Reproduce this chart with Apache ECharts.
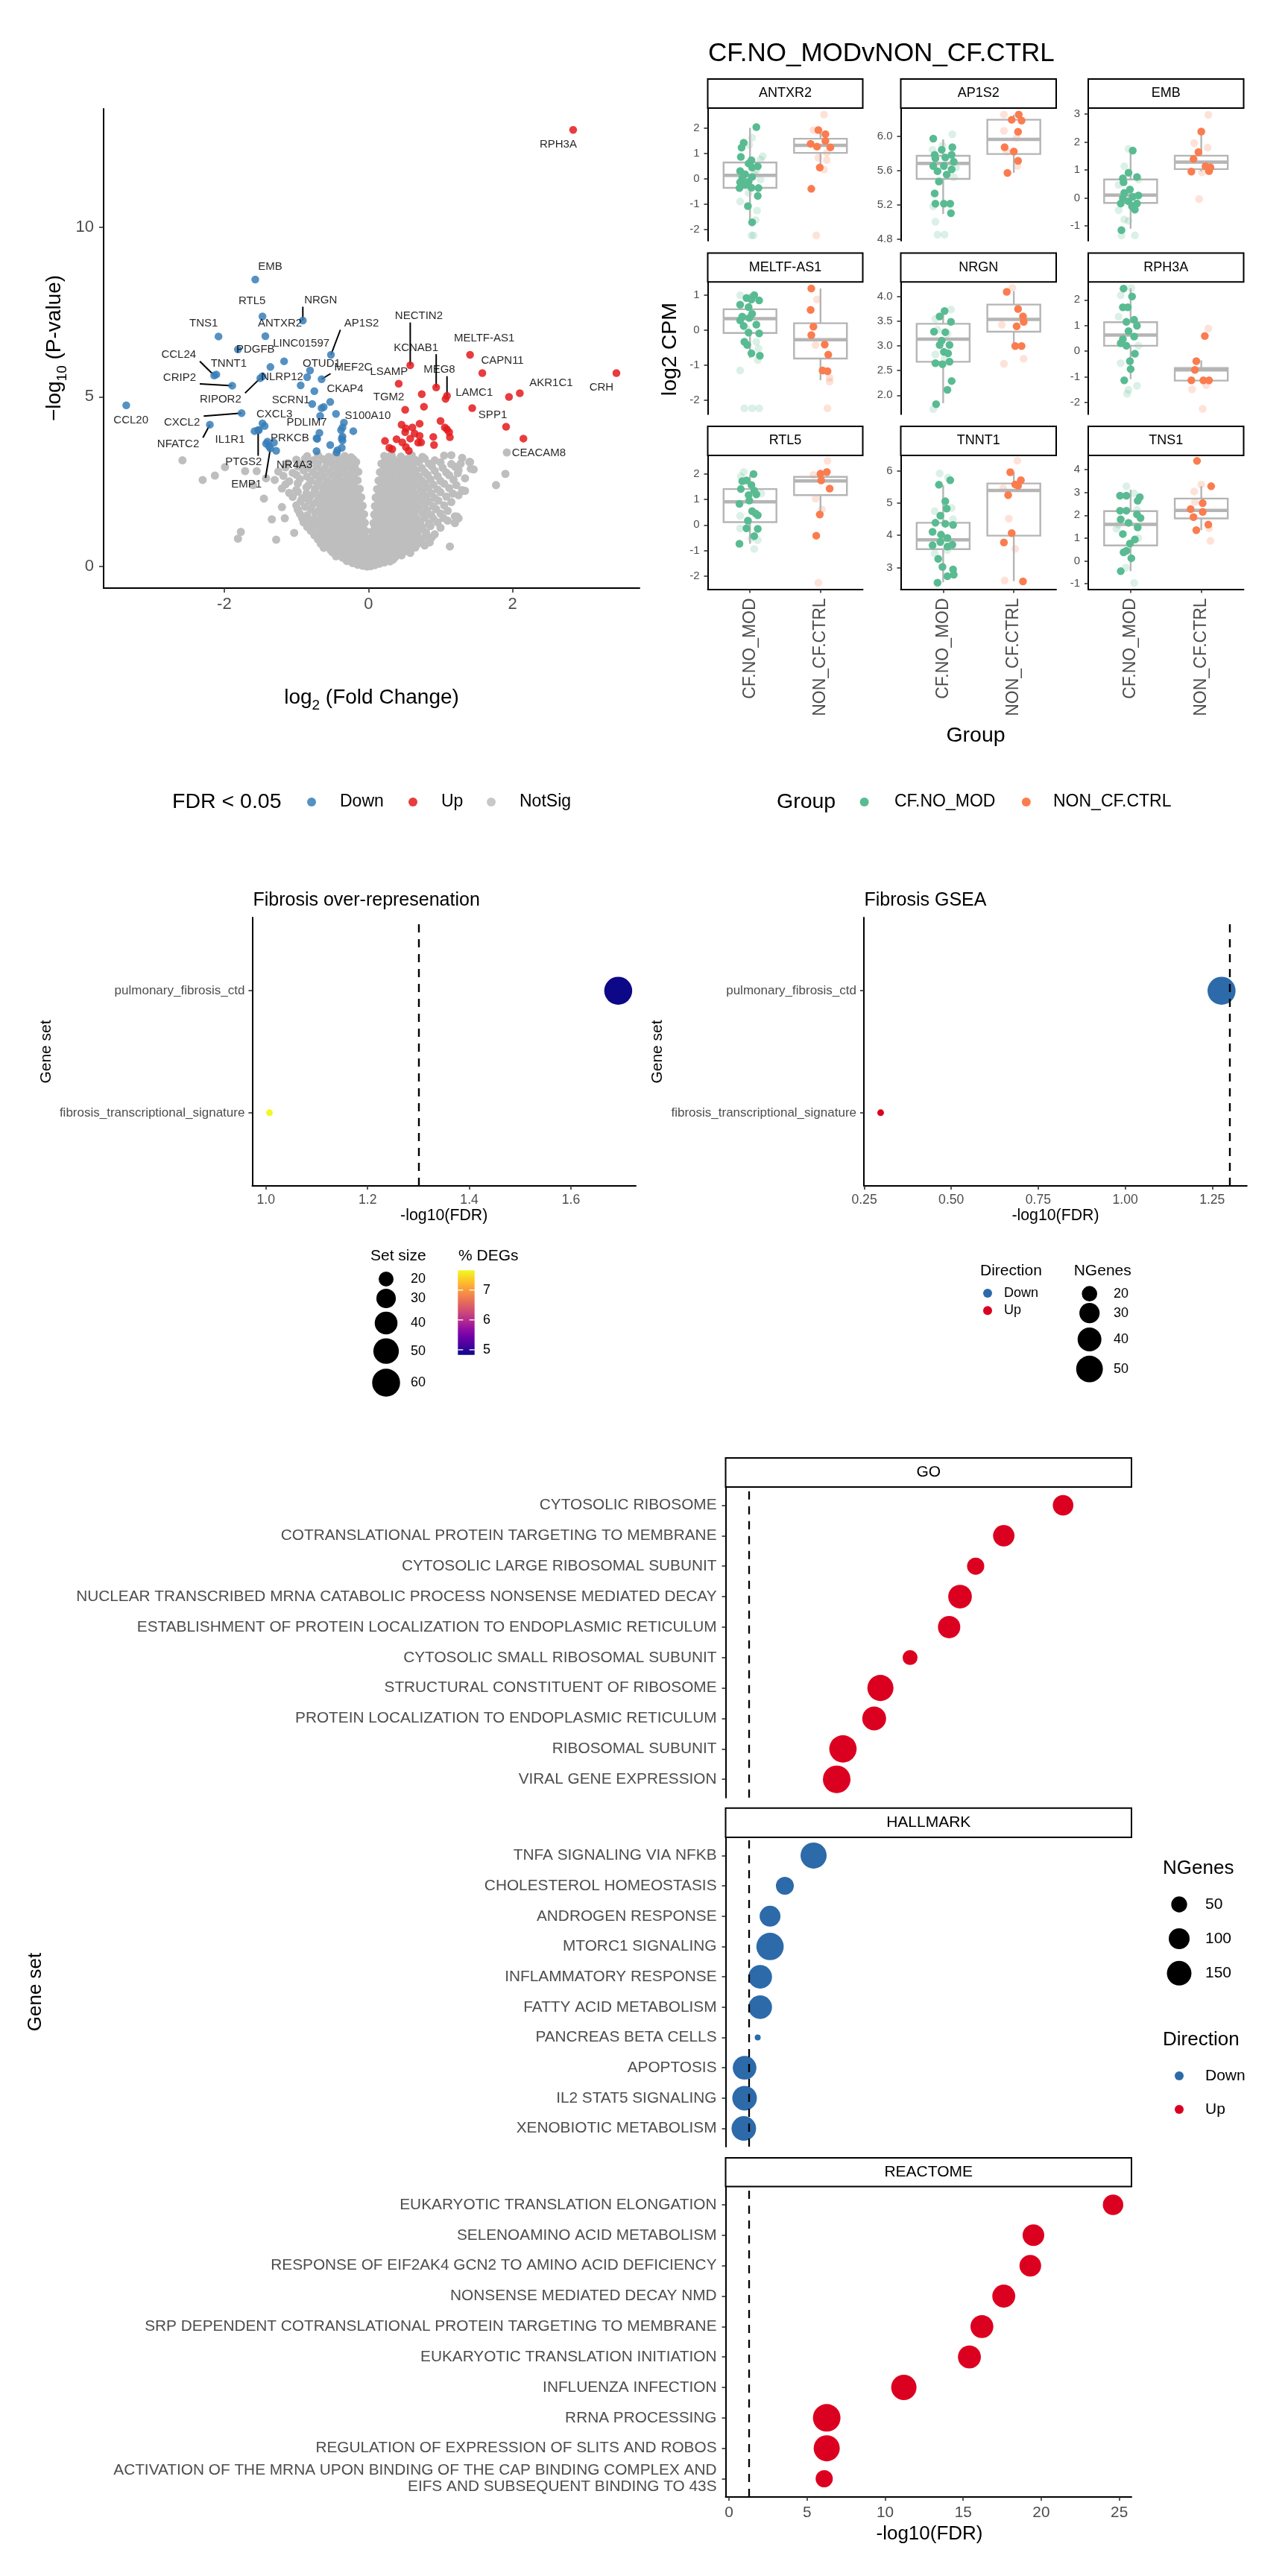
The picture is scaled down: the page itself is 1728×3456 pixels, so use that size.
<!DOCTYPE html>
<html><head><meta charset="utf-8">
<script src="https://cdn.jsdelivr.net/npm/echarts@6/dist/echarts.min.js"></script>
<style>html,body{margin:0;padding:0;background:#fff}#c{width:1728px;height:3456px}</style>
</head><body><div id="c"></div>
<script>
// ================= DATA =================
// Volcano: [log2FC, -log10 P, label]
const volcanoDown = [
 [-1.57,8.46,'EMB'],[-1.47,7.37,'RTL5'],[-0.91,7.25,'NRGN'],[-1.43,6.79,'ANTXR2'],[-2.08,6.78,'TNS1'],
 [-1.81,6.40,'PDGFB'],[-1.17,6.05,'LINC01597'],[-0.52,6.24,'AP1S2'],[-2.14,5.63,'CCL24'],[-2.11,5.66,'TNNT1'],
 [-1.89,5.33,'CRIP2'],[-1.47,5.61,'NLRP12'],[-1.50,5.55,'RIPOR2'],[-0.81,5.78,'OTUD1'],[-0.65,5.52,'MEF2C'],
 [-0.53,4.85,'CKAP4'],[-0.78,4.79,'SCRN1'],[-3.36,4.75,'CCL20'],[-1.76,4.52,'CXCL2'],[-1.47,4.22,'CXCL3'],
 [-0.67,4.44,'PDLIM7'],[-0.34,4.24,'S100A10'],[-2.20,4.18,'NFATC2'],[-1.58,3.99,'IL1R1'],[-1.40,3.68,'PRKCB'],
 [-1.53,4.02,'PTGS2'],[-1.28,3.41,'NR4A3'],[-1.36,3.48,'EMP1'],
 [-1.36,5.88,''],[-0.85,5.58,''],[-0.94,5.34,''],[-0.75,5.17,''],[-0.65,4.67,''],[-0.62,4.70,''],[-0.45,4.50,''],
 [-1.44,4.14,''],[-0.36,4.10,''],[-0.38,4.02,''],[-0.21,3.99,''],[-0.68,3.94,''],[-0.72,3.78,''],[-0.36,3.83,''],
 [-0.37,3.77,''],[-0.36,3.71,''],[-1.31,3.65,''],[-0.53,3.58,''],[-0.72,3.40,''],[-0.43,3.43,''],[-0.44,3.36,''],
 [-1.52,4.02,''],[-1.38,3.55,''],[-1.42,3.62,''],[-0.37,3.50,''],[-0.71,3.76,'']
];
const volcanoUp = [
 [2.84,12.87,'RPH3A'],[3.44,5.70,'CRH'],[1.41,6.24,'MELTF-AS1'],[1.58,5.70,'CAPN11'],[0.58,5.93,'NECTIN2'],
 [0.42,5.39,'LSAMP'],[0.94,5.28,'KCNAB1'],[1.09,5.03,'MEG8'],[1.07,4.94,'LAMC1'],[2.10,5.11,'AKR1C1'],
 [0.51,4.62,'TGM2'],[1.44,4.67,'SPP1'],[2.15,3.77,'CEACAM8'],
 [1.95,5.00,''],[0.74,5.08,''],[0.77,4.71,''],[1.91,4.12,''],[0.46,4.18,''],[0.52,4.07,''],[0.61,4.10,''],
 [0.71,4.21,''],[0.64,3.92,''],[0.71,3.85,''],[0.73,3.66,''],[0.51,3.96,''],[0.58,3.77,''],[0.47,3.66,''],
 [0.39,3.75,''],[0.23,3.70,''],[0.29,3.50,''],[0.33,3.46,''],[0.52,3.52,''],[0.56,3.41,''],[0.91,3.58,''],
 [0.90,3.82,''],[1.00,4.29,''],[1.06,4.10,''],[1.09,4.04,''],[1.12,3.96,''],[1.13,3.81,''],[0.69,3.65,'']
];
const volcanoNotSig = [
 [-0.22,0.1],[-0.15,0.05],[-0.08,0.02],[-0.02,0.0],[0.03,0.01],[0.09,0.04],[0.15,0.08],[0.22,0.12],[0.3,0.15],[-0.3,0.16],[0.0,0.12],
 [-0.26,0.22],[-0.18,0.18],[-0.11,0.16],[-0.04,0.2],[0.06,0.19],[0.12,0.2],[0.18,0.18],[0.26,0.22],[0.34,0.2],
 [-0.45,0.3],[-0.36,0.26],[-0.27,0.33],[-0.2,0.28],[-0.12,0.3],[-0.05,0.25],[0.05,0.27],[0.12,0.31],[0.2,0.29],[0.28,0.32],[0.37,0.27],[0.46,0.33],[0.0,0.35],
 [-0.5,0.42],[-0.4,0.44],[-0.31,0.4],[-0.23,0.45],[-0.16,0.41],[-0.08,0.43],[-0.01,0.45],[0.08,0.41],[0.16,0.44],[0.24,0.4],[0.32,0.45],[0.41,0.42],[0.5,0.44],[0.58,0.4],
 [-0.62,0.55],[-0.53,0.5],[-0.44,0.58],[-0.35,0.52],[-0.27,0.57],[-0.19,0.53],[-0.11,0.56],[-0.04,0.5],[0.04,0.54],[0.11,0.58],[0.19,0.51],[0.27,0.56],[0.36,0.53],[0.45,0.57],[0.55,0.52],[0.65,0.56],
 [-0.66,0.67],[-0.57,0.7],[-0.48,0.65],[-0.39,0.69],[-0.3,0.66],[-0.22,0.7],[-0.14,0.65],[-0.07,0.69],[0.0,0.66],[0.07,0.7],[0.15,0.65],[0.23,0.69],[0.31,0.66],[0.4,0.7],[0.49,0.65],[0.58,0.69],[0.68,0.66],[0.78,0.62],
 [-0.7,0.8],[-0.61,0.76],[-0.52,0.83],[-0.43,0.78],[-0.34,0.82],[-0.25,0.77],[-0.17,0.81],[-0.09,0.79],[-0.03,0.84],[0.03,0.76],[0.09,0.82],[0.17,0.78],[0.26,0.81],[0.35,0.77],[0.44,0.83],[0.53,0.79],[0.63,0.8],[0.74,0.76],[0.85,0.71],
 [-0.75,0.92],[-0.65,0.95],[-0.56,0.9],[-0.47,0.94],[-0.38,0.91],[-0.29,0.95],[-0.21,0.9],[-0.13,0.94],[-0.06,0.92],[0.06,0.94],[0.13,0.9],[0.21,0.95],[0.3,0.91],[0.39,0.94],[0.48,0.9],[0.58,0.95],[0.68,0.91],[0.79,0.89],[0.88,0.86],
 [-0.8,1.05],[-0.7,1.0],[-0.6,1.08],[-0.5,1.03],[-0.4,1.07],[-0.3,1.02],[-0.2,1.06],[-0.11,1.01],[-0.04,1.05],[0.05,1.03],[0.12,1.08],[0.21,1.02],[0.3,1.06],[0.4,1.01],[0.5,1.07],[0.6,1.03],[0.7,1.06],[0.8,1.0],[0.92,0.95],
 [-0.85,1.17],[-0.75,1.2],[-0.65,1.15],[-0.55,1.19],[-0.45,1.16],[-0.35,1.2],[-0.25,1.15],[-0.16,1.19],[-0.08,1.17],[0.09,1.18],[0.17,1.15],[0.26,1.2],[0.35,1.16],[0.45,1.19],[0.55,1.15],[0.65,1.2],[0.75,1.16],[0.86,1.19],[1.0,1.14],
 [-0.9,1.3],[-0.8,1.26],[-0.7,1.33],[-0.6,1.28],[-0.5,1.32],[-0.4,1.27],[-0.3,1.31],[-0.2,1.26],[-0.12,1.33],[-0.05,1.29],[0.07,1.28],[0.14,1.32],[0.23,1.27],[0.32,1.31],[0.42,1.26],[0.52,1.33],[0.62,1.28],[0.72,1.32],[0.84,1.27],[0.96,1.3],[1.1,1.35],
 [-0.92,1.42],[-0.85,1.45],[-0.75,1.4],[-0.65,1.44],[-0.55,1.41],[-0.45,1.45],[-0.35,1.4],[-0.25,1.44],[-0.17,1.42],[-0.09,1.44],[0.11,1.41],[0.19,1.45],[0.28,1.4],[0.37,1.44],[0.47,1.41],[0.57,1.45],[0.67,1.4],[0.78,1.44],[0.9,1.41],[1.04,1.43],
 [-0.95,1.55],[-0.85,1.51],[-0.74,1.58],[-0.63,1.53],[-0.53,1.57],[-0.43,1.52],[-0.33,1.56],[-0.23,1.51],[-0.14,1.58],[-0.06,1.54],[0.08,1.53],[0.16,1.57],[0.25,1.52],[0.34,1.56],[0.44,1.51],[0.54,1.58],[0.64,1.53],[0.75,1.57],[0.87,1.52],[1.0,1.56],[1.2,1.48],
 [-0.98,1.67],[-0.8,1.7],[-0.69,1.65],[-0.58,1.69],[-0.48,1.66],[-0.38,1.7],[-0.28,1.65],[-0.19,1.69],[-0.11,1.66],[0.12,1.68],[0.21,1.65],[0.3,1.7],[0.39,1.66],[0.49,1.69],[0.59,1.65],[0.7,1.7],[0.81,1.66],[0.94,1.69],[1.1,1.64],
 [-1.0,1.8],[-0.88,1.76],[-0.77,1.83],[-0.66,1.78],[-0.56,1.82],[-0.46,1.77],[-0.36,1.81],[-0.26,1.76],[-0.16,1.83],[-0.08,1.79],[0.09,1.78],[0.18,1.82],[0.27,1.77],[0.37,1.81],[0.47,1.76],[0.57,1.83],[0.67,1.78],[0.78,1.82],[0.9,1.77],[1.05,1.8],
 [-0.94,1.92],[-0.83,1.95],[-0.72,1.9],[-0.61,1.94],[-0.51,1.91],[-0.41,1.95],[-0.31,1.9],[-0.21,1.94],[-0.13,1.92],[0.14,1.93],[0.23,1.9],[0.32,1.95],[0.42,1.91],[0.52,1.94],[0.62,1.9],[0.73,1.95],[0.84,1.91],[0.97,1.94],[1.15,1.9],
 [-1.05,2.05],[-0.92,2.01],[-0.8,2.08],[-0.69,2.03],[-0.59,2.07],[-0.49,2.02],[-0.39,2.06],[-0.29,2.01],[-0.19,2.08],[-0.1,2.04],[0.1,2.03],[0.19,2.07],[0.29,2.02],[0.39,2.06],[0.49,2.01],[0.59,2.08],[0.69,2.03],[0.8,2.07],[0.92,2.02],[1.08,2.06],[1.25,2.1],
 [-1.1,2.17],[-0.98,2.2],[-0.86,2.15],[-0.75,2.19],[-0.64,2.16],[-0.54,2.2],[-0.44,2.15],[-0.34,2.19],[-0.24,2.16],[-0.15,2.2],[0.15,2.18],[0.24,2.15],[0.34,2.2],[0.44,2.16],[0.54,2.19],[0.64,2.15],[0.75,2.2],[0.87,2.16],[1.0,2.19],[1.17,2.15],
 [-1.2,2.3],[-1.0,2.26],[-0.86,2.33],[-0.74,2.28],[-0.63,2.32],[-0.52,2.27],[-0.42,2.31],[-0.32,2.26],[-0.22,2.33],[-0.12,2.29],[0.12,2.28],[0.21,2.32],[0.31,2.27],[0.41,2.31],[0.51,2.26],[0.61,2.33],[0.72,2.28],[0.83,2.32],[0.96,2.27],[1.12,2.31],[1.3,2.25],
 [-1.15,2.42],[-0.98,2.45],[-0.83,2.4],[-0.71,2.44],[-0.6,2.41],[-0.5,2.45],[-0.4,2.4],[-0.3,2.44],[-0.2,2.41],[0.18,2.43],[0.27,2.4],[0.37,2.45],[0.47,2.41],[0.57,2.44],[0.67,2.4],[0.78,2.45],[0.9,2.41],[1.05,2.44],[1.22,2.4],
 [-1.3,2.55],[-1.1,2.51],[-0.95,2.58],[-0.8,2.53],[-0.68,2.57],[-0.57,2.52],[-0.46,2.56],[-0.36,2.51],[-0.26,2.58],[-0.15,2.54],[0.14,2.53],[0.23,2.57],[0.33,2.52],[0.43,2.56],[0.53,2.51],[0.63,2.58],[0.74,2.53],[0.86,2.57],[1.0,2.52],[1.18,2.56],[1.34,2.6],
 [-1.18,2.67],[-1.0,2.7],[-0.85,2.65],[-0.73,2.69],[-0.62,2.66],[-0.51,2.7],[-0.41,2.65],[-0.3,2.69],[-0.2,2.66],[0.2,2.68],[0.3,2.65],[0.4,2.7],[0.5,2.66],[0.6,2.69],[0.7,2.65],[0.82,2.7],[0.96,2.66],[1.12,2.69],
 [-1.25,2.8],[-1.05,2.76],[-0.9,2.83],[-0.77,2.78],[-0.65,2.82],[-0.54,2.77],[-0.43,2.81],[-0.33,2.76],[-0.22,2.83],[-0.14,2.79],[0.16,2.78],[0.26,2.82],[0.36,2.77],[0.46,2.81],[0.56,2.76],[0.66,2.83],[0.78,2.78],[0.92,2.82],[1.08,2.77],[1.25,2.84],[1.42,2.88],
 [-1.15,2.92],[-0.98,2.95],[-0.85,2.9],[-0.72,2.94],[-0.6,2.91],[-0.49,2.95],[-0.38,2.9],[-0.28,2.94],[-0.19,2.92],[0.22,2.93],[0.32,2.9],[0.42,2.95],[0.52,2.91],[0.62,2.94],[0.74,2.9],[0.88,2.95],[1.03,2.91],[1.2,2.94],
 [-1.12,3.05],[-0.95,3.01],[-0.82,3.08],[-0.7,3.03],[-0.58,3.07],[-0.47,3.02],[-0.37,3.06],[-0.27,3.01],[-0.17,3.08],[0.18,3.03],[0.28,3.07],[0.38,3.02],[0.48,3.06],[0.58,3.01],[0.7,3.08],[0.84,3.03],[1.0,3.07],[1.15,3.02],[1.4,3.08],
 [-1.0,3.15],[-0.88,3.18],[-0.76,3.13],[-0.64,3.17],[-0.52,3.14],[-0.41,3.18],[-0.31,3.13],[-0.21,3.16],[0.24,3.15],[0.34,3.18],[0.44,3.13],[0.54,3.17],[0.65,3.14],[0.78,3.18],[0.92,3.13],
 [-0.85,3.25],[-0.7,3.28],[-0.55,3.23],[-0.45,3.3],[-0.33,3.26],[-0.24,3.22],[0.22,3.26],[0.32,3.3],[0.45,3.24],[0.6,3.28],[0.75,3.23],[1.05,3.27],[1.3,3.2],
 [-2.58,3.13],[-2.30,2.55],[-2.13,2.68],[-1.99,2.93],[-1.71,2.81],[-1.55,2.81],[-1.77,1.02],[-1.81,0.82],[-1.34,1.39],[-1.16,1.42],[-1.28,0.79],[-1.03,0.99],[-1.45,2.0],[-1.2,1.75],[-1.6,2.4],[-1.42,2.6],
 [1.92,3.36],[1.90,2.73],[1.77,2.40],[1.46,2.86],[1.34,2.23],[1.13,0.59],[1.25,1.42],[1.15,3.28],[1.41,3.08],[1.28,3.03],[1.24,2.75],[1.2,1.28],[1.23,1.47],[1.32,2.23]
];
const volcanoXTicks = [-2, 0, 2];
const volcanoYTicks = [0, 5, 10];

// Boxplots: genes, groups; box = [[min,q1,median,q3,max] per group]; points = [x (group + jitter), log2 CPM]
const boxGenes = ['ANTXR2','AP1S2','EMB','MELTF-AS1','NRGN','RPH3A','RTL5','TNNT1','TNS1'];
const boxGroups = ['CF.NO_MOD','NON_CF.CTRL'];
const antxr2Box = [[-1.67,-0.37,0.12,0.63,2.0],[0.43,1.01,1.31,1.57,1.96]];
const antxr2Solid = [[1.09,2.03],[0.91,1.41],[0.88,1.22],[0.87,0.85],[1.02,0.72],[0.98,0.59],[1.11,0.48],[1.03,0.43],[0.86,0.29],[0.93,0.17],[0.89,0.01],[1.03,0.06],[0.98,-0.13],[0.86,-0.15],[0.93,-0.25],[1.02,-0.36],[1.12,-0.38],[0.85,-0.38],[1.11,-0.69],[0.97,-1.09],[1.03,-1.73],
 [1.97,1.91],[2.07,1.75],[2.07,1.48],[1.86,1.37],[1.95,1.26],[2.14,1.23],[1.99,0.43],[1.87,-0.41]];
const antxr2Faint = [[1.03,1.61],[1.18,0.88],[1.15,0.75],[1.09,0.33],[1.06,0.17],[0.98,-0.57],[0.86,-0.91],[1.10,-1.27],[1.08,-1.64],[1.02,-2.25],[1.05,-2.25],[0.99,1.33],[1.15,-0.04],
 [2.05,2.52],[1.90,1.91],[2.09,1.01],[2.09,0.73],[1.97,0.82],[2.05,0.35],[1.94,-2.25]];
const ap1s2Box = [[5.09,5.50,5.68,5.77,5.96],[5.57,5.79,5.96,6.19,6.25]];
const ap1s2Solid = [[0.86,5.97],[1.13,5.87],[0.98,5.84],[0.88,5.78],[1.12,5.78],[0.89,5.74],[1.03,5.75],[1.15,5.70],[0.86,5.65],[1.01,5.65],[1.12,5.61],[0.92,5.59],[1.05,5.55],[0.94,5.47],[0.88,5.33],[0.89,5.21],[1.01,5.21],[1.10,5.21],[1.11,5.10],
 [2.07,6.25],[1.97,6.19],[2.11,6.18],[2.06,6.05],[1.87,5.87],[2.0,5.82],[2.06,5.71],[1.91,5.57]];
const ap1s2Faint = [[1.13,6.02],[0.85,5.84],[0.99,5.89],[1.18,5.63],[1.15,5.52],[0.86,5.18],[0.89,5.00],[0.92,4.85],[1.02,4.85],
 [1.86,6.25],[1.86,6.06],[2.04,5.98],[1.90,5.82],[2.05,5.65]];
const embBox = [[-1.10,-0.18,0.10,0.66,1.70],[0.95,1.03,1.28,1.51,2.37]];
const embSolid = [[1.03,1.69],[0.97,0.90],[1.09,0.75],[0.89,0.70],[0.90,0.56],[0.99,0.30],[0.91,0.18],[1.11,0.09],[1.03,0.04],[0.89,-0.01],[0.97,-0.12],[1.09,-0.20],[0.86,-0.20],[1.02,-0.30],[1.06,-0.42],[0.87,-1.15],
 [2.0,2.37],[1.96,1.64],[1.89,1.39],[2.06,1.13],[2.13,1.09],[1.86,0.94],[2.11,0.96]];
const embFaint = [[0.97,1.75],[0.91,1.13],[1.11,0.66],[0.83,0.47],[0.83,-0.44],[0.91,-0.77],[0.97,-0.82],[0.87,-1.34],[1.06,-1.34],
 [2.10,2.97],[1.90,1.96],[2.09,1.80],[1.97,-0.04],[2.01,0.91]];
const meltfBox = [[-0.80,-0.09,0.32,0.59,1.03],[-1.44,-0.82,-0.28,0.19,1.18]];
const meltfSolid = [[1.06,0.99],[0.95,0.91],[1.02,0.87],[1.13,0.84],[0.86,0.72],[0.98,0.65],[1.03,0.46],[0.89,0.38],[0.99,0.34],[0.86,0.27],[1.09,0.15],[0.91,0.11],[0.98,-0.08],[1.13,-0.10],[0.92,-0.34],[0.96,-0.43],[1.02,-0.67],[1.14,-0.74],
 [1.87,1.18],[1.86,0.57],[1.90,0.09],[1.87,-0.15],[2.06,-0.42],[2.11,-0.71],[2.03,-1.16],[2.10,-1.18]];
const meltfFaint = [[0.86,0.99],[0.95,0.04],[1.09,-0.34],[1.12,-0.53],[1.11,-0.86],[0.86,-1.16],[0.92,-2.24],[1.03,-2.24],[1.13,-2.24],
 [1.95,0.87],[1.93,-0.43],[2.13,-1.37],[2.13,-1.48],[2.10,-2.24]];
const nrgnBox = [[1.84,2.68,3.14,3.45,3.74],[3.00,3.29,3.54,3.84,4.11]];
const nrgnSolid = [[1.02,3.71],[0.95,3.60],[1.11,3.49],[0.87,3.29],[1.03,3.28],[0.98,3.11],[1.09,3.02],[0.95,3.02],[1.01,2.88],[1.07,2.85],[0.89,2.65],[0.99,2.63],[1.09,2.68],[1.12,2.29],[1.06,2.11],[0.90,1.82],
 [1.90,4.10],[2.06,3.75],[2.13,3.60],[2.14,3.49],[2.04,3.40],[2.02,3.00],[2.11,3.00]];
const nrgnFaint = [[1.11,3.74],[0.89,3.55],[0.92,3.33],[0.89,2.83],[1.02,2.74],[0.86,1.72],[1.06,3.25],
 [1.98,4.18],[1.83,3.43],[1.86,2.64],[2.14,2.74]];
const rph3aBox = [[-1.09,0.21,0.63,1.13,2.45],[-1.15,-1.15,-0.73,-0.66,-0.36]];
const rph3aSolid = [[0.90,2.44],[1.02,2.13],[0.89,1.71],[0.96,1.71],[0.94,1.14],[1.05,1.22],[1.09,0.99],[0.97,0.78],[1.05,0.57],[0.89,0.47],[0.86,0.31],[0.94,0.21],[1.06,-0.10],[0.99,-0.39],[1.0,-0.70],[0.91,-1.14],
 [2.05,0.59],[1.93,-0.39],[1.91,-0.73],[1.86,-1.14],[2.03,-1.14],[2.11,-1.14]];
const rph3aFaint = [[1.01,2.46],[0.86,2.18],[0.83,1.35],[1.11,0.21],[0.86,-0.47],[1.09,-1.35],[0.97,-1.51],[0.95,-1.66],
 [2.10,0.88],[1.87,-1.49],[2.07,-1.33],[2.02,-2.25]];
const rtl5Box = [[-0.74,0.11,0.91,1.41,1.96],[0.38,1.17,1.73,1.89,2.08]];
const rtl5Solid = [[1.05,2.0],[0.89,1.72],[0.95,1.75],[1.02,1.57],[0.87,1.41],[1.06,1.35],[0.98,1.17],[1.09,1.20],[0.99,0.96],[0.85,0.83],[1.03,0.54],[1.08,0.45],[1.11,0.38],[0.97,0.17],[0.95,-0.13],[1.11,-0.15],[1.06,-0.44],[0.85,-0.74],
 [2.09,2.08],[2.0,2.01],[2.01,1.75],[2.13,1.43],[1.99,0.41],[1.94,-0.42]];
const rtl5Faint = [[0.91,2.08],[0.87,1.91],[1.16,1.24],[0.86,0.36],[0.86,-0.13],[1.02,-0.52],[1.11,-0.59],[1.06,-0.94],
 [2.10,2.52],[1.90,1.96],[1.93,1.03],[2.02,0.61],[1.97,-2.27]];
const tnnt1Box = [[2.54,3.57,3.86,4.39,5.56],[2.58,3.99,5.39,5.61,5.96]];
const tnnt1Solid = [[1.10,5.71],[0.94,5.57],[1.03,5.06],[1.05,4.83],[0.96,4.61],[0.89,4.39],[1.03,4.36],[1.14,4.32],[0.85,4.11],[0.97,4.02],[1.06,3.92],[0.96,3.79],[1.13,3.71],[0.85,3.69],[1.06,3.65],[0.93,3.27],[0.99,3.02],[1.14,2.94],[1.06,2.73],[1.15,2.78],[0.92,2.53],
 [1.95,5.96],[2.10,5.71],[2.06,5.54],[2.02,5.58],[1.92,5.25],[1.97,4.07],[1.86,3.78],[2.13,2.57]];
const tnnt1Faint = [[0.95,5.92],[1.07,5.79],[0.88,4.75],[1.12,4.85],[1.14,4.50],[1.06,3.54],[0.88,3.44],[1.03,3.92],
 [2.05,6.32],[1.85,5.46],[1.93,4.52],[2.02,3.58],[1.87,2.60]];
const tns1Box = [[-0.45,0.68,1.60,2.18,3.12],[1.35,1.86,2.21,2.73,3.27]];
const tns1Solid = [[0.85,2.86],[0.94,2.86],[1.13,2.79],[1.10,2.64],[0.85,2.20],[0.94,2.20],[1.09,2.04],[1.14,1.88],[0.86,1.82],[0.97,1.67],[1.10,1.47],[0.89,1.18],[1.06,0.94],[0.99,0.76],[0.90,0.38],[0.94,0.44],[1.01,0.12],[0.86,-0.45],
 [1.94,4.38],[2.14,3.27],[2.02,2.53],[1.85,2.27],[2.02,2.15],[1.89,1.92],[2.10,1.59],[1.93,1.35]];
const tns1Faint = [[0.94,3.27],[1.05,2.96],[1.09,2.24],[0.83,1.59],[1.11,1.0],[0.80,1.41],[0.93,-0.29],[1.05,-0.96],
 [2.0,3.35],[1.90,3.04],[1.91,2.59],[2.11,1.44],[2.13,0.88]];
const boxYTicks = [[-2,-1,0,1,2],[4.8,5.2,5.6,6.0],[-1,0,1,2,3],[-2,-1,0,1],[2.0,2.5,3.0,3.5,4.0],[-2,-1,0,1,2],[-2,-1,0,1,2],[3,4,5,6],[-1,0,1,2,3,4]];

// Fibrosis over-representation
const oraSets = ['fibrosis_transcriptional_signature','pulmonary_fibrosis_ctd'];
const oraLogFDR = [1.007, 1.693];
const oraSetSize = [13, 60];
const oraPctDEG = [7.66, 4.83];
const oraXTicks = [1.0, 1.2, 1.4, 1.6];
// Fibrosis GSEA
const gseaSets = ['fibrosis_transcriptional_signature','pulmonary_fibrosis_ctd'];
const gseaLogFDR = [0.297, 1.277];
const gseaNGenes = [13, 55];
const gseaDirection = ['Up','Down'];
const gseaXTicks = [0.25, 0.50, 0.75, 1.00, 1.25];
const fdrThreshold = 1.30103;

// Enrichment facets (top to bottom)
const goTerms = ['CYTOSOLIC RIBOSOME','COTRANSLATIONAL PROTEIN TARGETING TO MEMBRANE','CYTOSOLIC LARGE RIBOSOMAL SUBUNIT','NUCLEAR TRANSCRIBED MRNA CATABOLIC PROCESS NONSENSE MEDIATED DECAY','ESTABLISHMENT OF PROTEIN LOCALIZATION TO ENDOPLASMIC RETICULUM','CYTOSOLIC SMALL RIBOSOMAL SUBUNIT','STRUCTURAL CONSTITUENT OF RIBOSOME','PROTEIN LOCALIZATION TO ENDOPLASMIC RETICULUM','RIBOSOMAL SUBUNIT','VIRAL GENE EXPRESSION'];
const goLogFDR = [21.4, 17.6, 15.8, 14.8, 14.1, 11.6, 9.7, 9.3, 7.3, 6.9];
const goNGenes = [97, 107, 61, 137, 119, 43, 175, 140, 196, 200];
const goDirection = ['Up','Up','Up','Up','Up','Up','Up','Up','Up','Up'];
const hallmarkTerms = ['TNFA SIGNALING VIA NFKB','CHOLESTEROL HOMEOSTASIS','ANDROGEN RESPONSE','MTORC1 SIGNALING','INFLAMMATORY RESPONSE','FATTY ACID METABOLISM','PANCREAS BETA CELLS','APOPTOSIS','IL2 STAT5 SIGNALING','XENOBIOTIC METABOLISM'];
const hallmarkLogFDR = [5.42, 3.58, 2.63, 2.63, 2.0, 2.0, 1.84, 1.0, 1.0, 0.95];
const hallmarkNGenes = [175, 68, 100, 196, 137, 137, 10, 137, 151, 151];
const hallmarkDirection = ['Down','Down','Down','Down','Down','Down','Down','Down','Down','Down'];
const reactomeTerms = ['EUKARYOTIC TRANSLATION ELONGATION','SELENOAMINO ACID METABOLISM','RESPONSE OF EIF2AK4 GCN2 TO AMINO ACID DEFICIENCY','NONSENSE MEDIATED DECAY NMD','SRP DEPENDENT COTRANSLATIONAL PROTEIN TARGETING TO MEMBRANE','EUKARYOTIC TRANSLATION INITIATION','INFLUENZA INFECTION','RRNA PROCESSING','REGULATION OF EXPRESSION OF SLITS AND ROBOS','ACTIVATION OF THE MRNA UPON BINDING OF THE CAP BINDING COMPLEX AND\nEIFS AND SUBSEQUENT BINDING TO 43S'];
const reactomeLogFDR = [24.6, 19.5, 19.3, 17.6, 16.2, 15.4, 11.2, 6.26, 6.26, 6.1];
const reactomeNGenes = [95, 110, 110, 127, 127, 127, 163, 200, 175, 61];
const reactomeDirection = ['Up','Up','Up','Up','Up','Up','Up','Up','Up','Up'];
const enrichXTicks = [0, 5, 10, 15, 20, 25];

// ================= STYLE / LAYOUT =================
const FONT = '"Liberation Sans", Arial, Helvetica, sans-serif';
const G30 = '#4D4D4D';
const C_DOWN = '#377EB8', C_UP = '#E41A1C', C_NS = '#BEBEBE';
const C_G1 = '#59BB92', C_G2 = '#FA7C4F';
const C_DIR_DOWN = '#2C6AAA', C_DIR_UP = '#DC0020';
const plasma = ['#0D0887','#41049D','#6A00A8','#8F0DA4','#B12A90','#CC4778','#E16462','#F2844B','#FCA636','#FCCE25','#F0F921'];

// label offsets in pixels (label centre relative to point)
const labelOffsets = {
 RPH3A:[-20,20], EMB:[20,-17], RTL5:[-14,-21], NRGN:[24,-27], ANTXR2:[19.5,-17], TNS1:[-20,-17.5], PDGFB:[23.5,0],
 LINC01597:[23,-24], AP1S2:[41,-42], CCL24:[-47.6,-27.5], TNNT1:[16.6,-14.2], CRIP2:[-70.6,-11], NLRP12:[26.4,1.4],
 RIPOR2:[-53.4,28.5], OTUD1:[15.5,-8.7], MEF2C:[42.5,-16], LSAMP:[-13,-16], NECTIN2:[11.5,-66], KCNAB1:[-27,-53],
 MEG8:[-10.3,-34.9], LAMC1:[38.5,-8], 'MELTF-AS1':[19,-22.5], CAPN11:[27,-17], AKR1C1:[42,-14], CRH:[-20,19],
 TGM2:[-22,-17], SPP1:[27.5,9], CEACAM8:[20.7,19], CKAP4:[20,-17], SCRN1:[-28.7,-5.5], CCL20:[6.3,19.7],
 CXCL2:[-80,12.4], CXCL3:[16,-12.4], PDLIM7:[-18,8.7], S100A10:[32,-9], NFATC2:[-42.5,26], IL1R1:[-33,11.5],
 PRKCB:[30,-5], PTGS2:[-19.5,43], NR4A3:[24.7,19], EMP1:[-32,48]
};
const segmentLabels = ['NRGN','AP1S2','CCL24','CRIP2','RIPOR2','MEF2C','NECTIN2','KCNAB1','MEG8','CXCL2','NFATC2','PTGS2','EMP1'];

const boxCols = [{left:949.5,width:208},{left:1208.5,width:208.5},{left:1460,width:208.5}];
const boxRows = [{top:145,height:178,strip:106},{top:378.2,height:177.5,strip:339.5},{top:611,height:179.4,strip:572}];
const boxYLim = [[-2.46,2.78],[4.778,6.326],[-1.53,3.21],[-2.41,1.37],[1.616,4.30],[-2.46,2.70],[-2.52,2.73],[2.33,6.48],[-1.235,4.62]];
const boxBoxes = [antxr2Box,ap1s2Box,embBox,meltfBox,nrgnBox,rph3aBox,rtl5Box,tnnt1Box,tns1Box];
const boxSolids = [antxr2Solid,ap1s2Solid,embSolid,meltfSolid,nrgnSolid,rph3aSolid,rtl5Solid,tnnt1Solid,tns1Solid];
const boxFaints = [antxr2Faint,ap1s2Faint,embFaint,meltfFaint,nrgnFaint,rph3aFaint,rtl5Faint,tnnt1Faint,tns1Faint];

const enrichPanels = [
 {name:'GO', terms:goTerms, fdr:goLogFDR, n:goNGenes, dir:goDirection, top:1995, height:416.7, strip:1956},
 {name:'HALLMARK', terms:hallmarkTerms, fdr:hallmarkLogFDR, n:hallmarkNGenes, dir:hallmarkDirection, top:2465, height:415, strip:2425.7},
 {name:'REACTOME', terms:reactomeTerms, fdr:reactomeLogFDR, n:reactomeNGenes, dir:reactomeDirection, top:2933.5, height:416.5, strip:2895}
];

function sizeScale(n, nmin, nmax, dmin, dmax){
  const t = Math.max(0, Math.min(1, (n - nmin) / (nmax - nmin)));
  return dmin + (dmax - dmin) * Math.sqrt(t);
}
const enrichSize = n => sizeScale(n, 10, 200, 8, 37);
const oraSize = n => sizeScale(n, 13, 60, 9, 37.5);
const gseaSize = n => sizeScale(n, 13, 55, 9, 37.6);

// ================= BUILD =================
const grids = [], xAxes = [], yAxes = [], series = [], graphics = [];
function axis(gi, min, max, ticks, fmt, o){
  o = o || {};
  return {
    type:'value', gridIndex:gi, min, max, show: o.show !== false,
    axisLine:{show:true, onZero:false, lineStyle:{color:'#000', width:2}},
    axisTick:{show:true, customValues:ticks, length:o.tickLen||5, lineStyle:{color:'#333', width:1.6}},
    axisLabel:{show:true, customValues:ticks, formatter:fmt, color:G30, fontSize:o.fs||15, fontFamily:FONT,
      margin:o.margin||10, rotate:o.rotate||0, lineHeight:o.lh},
    splitLine:{show:false}
  };
}
function addGrid(left, top, width, height){
  grids.push({left, top, width, height, containLabel:false, outerBoundsMode:'none'});
  return grids.length - 1;
}
function txt(x, y, text, size, o){
  o = o || {};
  return {type:'text', x, y, rotation:o.rot||0, z:100, silent:true,
    style:{text, fill:o.color||'#000', fontSize:size, fontFamily:FONT,
      align:o.align||'left', textAlign:o.align||'left', verticalAlign:'middle', textVerticalAlign:'middle', rich:o.rich}};
}
function circ(cx, cy, r, fill, op){
  return {type:'circle', z:100, silent:true, shape:{cx, cy, r}, style:{fill, opacity: op==null?1:op}};
}
function strip(x, y, w, h, label, fs){
  graphics.push({type:'rect', z:90, silent:true, shape:{x, y, width:w, height:h}, style:{fill:'#fff', stroke:'#000', lineWidth:2}});
  graphics.push(txt(x + w/2, y + h/2, label, fs, {align:'center'}));
}

// ---- Volcano
const gV = addGrid(139, 146, 719, 643);
xAxes.push(axis(gV, -3.674, 3.761, volcanoXTicks, v => String(v), {fs:22, margin:11, tickLen:6}));
yAxes.push(axis(gV, -0.637, 13.49, volcanoYTicks, v => String(v), {fs:22, margin:13, tickLen:6}));
series.push({type:'scatter', xAxisIndex:gV, yAxisIndex:gV, z:1, symbolSize:11, silent:true,
  itemStyle:{color:C_NS, opacity:1}, data:volcanoNotSig});
function volcanoSeries(arr, color){
  return {type:'scatter', xAxisIndex:gV, yAxisIndex:gV, z:3, symbolSize:10.5, silent:true,
    itemStyle:{color, opacity:0.85},
    label:{show:true, position:'inside', formatter:'{b}', color:'#000', fontSize:15, fontFamily:FONT},
    labelLayout: p => { const o = labelOffsets[arr[p.dataIndex][2]]; return o ? {dx:o[0], dy:o[1], hideOverlap:false} : {}; },
    data: arr.map(d => ({value:[d[0], d[1]], name:d[2]}))};
}
series.push(volcanoSeries(volcanoDown, C_DOWN));
series.push(volcanoSeries(volcanoUp, C_UP));
const measureCtx = document.createElement('canvas').getContext('2d');
measureCtx.font = '15px ' + FONT;
const segData = volcanoDown.concat(volcanoUp).filter(d => segmentLabels.indexOf(d[2]) >= 0);
series.push({type:'custom', xAxisIndex:gV, yAxisIndex:gV, z:2, silent:true,
  data: segData.map(d => [d[0], d[1]]),
  renderItem: (params, api) => {
    const d = segData[params.dataIndex];
    const p = api.coord([api.value(0), api.value(1)]);
    const o = labelOffsets[d[2]];
    const lx = p[0] + o[0], ly = p[1] + o[1];
    const hw = measureCtx.measureText(d[2]).width / 2 + 5, hh = 8.5;
    const ex = Math.max(lx - hw, Math.min(lx + hw, p[0]));
    const ey = Math.max(ly - hh, Math.min(ly + hh, p[1]));
    return {type:'line', shape:{x1:p[0], y1:p[1], x2:ex, y2:ey}, style:{stroke:'#000', lineWidth:2}};
  }});

// ---- Boxplots
boxGenes.forEach((g, i) => {
  const r = boxRows[Math.floor(i/3)], c = boxCols[i%3];
  const gi = addGrid(c.left, r.top, c.width, r.height);
  const bottom = Math.floor(i/3) === 2;
  const dec = (i === 1 || i === 4) ? 1 : 0;
  xAxes.push(axis(gi, 0.4, 2.6, [1,2], v => boxGroups[Math.round(v)-1], {show:bottom, fs:23, rotate:90, margin:12}));
  yAxes.push(axis(gi, boxYLim[i][0], boxYLim[i][1], boxYTicks[i], v => v.toFixed(dec), {fs:15, margin:11}));
  strip(c.left, r.strip, c.width, r.top - r.strip, g, 18);
  series.push({type:'custom', xAxisIndex:gi, yAxisIndex:gi, z:2, silent:true,
    data: boxBoxes[i].map((b, k) => [k+1].concat(b)),
    renderItem: (params, api) => {
      const x = api.value(0), mn = api.value(1), q1 = api.value(2), md = api.value(3), q3 = api.value(4), mx = api.value(5);
      const hw = 0.375;
      const a = api.coord([x-hw, q3]), b = api.coord([x+hw, q1]);
      const m1 = api.coord([x-hw, md]), m2 = api.coord([x+hw, md]);
      const t = api.coord([x, mx]), u = api.coord([x, q3]), l = api.coord([x, q1]), bt = api.coord([x, mn]);
      const st = {stroke:'#B5B5B5', lineWidth:2.4, fill:'none'};
      return {type:'group', children:[
        {type:'line', shape:{x1:t[0], y1:t[1], x2:u[0], y2:u[1]}, style:st},
        {type:'line', shape:{x1:l[0], y1:l[1], x2:bt[0], y2:bt[1]}, style:st},
        {type:'rect', shape:{x:a[0], y:a[1], width:b[0]-a[0], height:b[1]-a[1]}, style:st},
        {type:'line', shape:{x1:m1[0], y1:m1[1], x2:m2[0], y2:m2[1]}, style:{stroke:'#B5B5B5', lineWidth:4.5}}
      ]};
    }});
  series.push({type:'scatter', xAxisIndex:gi, yAxisIndex:gi, z:1, symbolSize:10.5, silent:true,
    itemStyle:{color: p => p.value[0] < 1.5 ? C_G1 : C_G2, opacity:0.22}, data: boxFaints[i]});
  series.push({type:'scatter', xAxisIndex:gi, yAxisIndex:gi, z:3, symbolSize:10.5, silent:true,
    itemStyle:{color: p => p.value[0] < 1.5 ? C_G1 : C_G2, opacity:1}, data: boxSolids[i]});
});

// ---- Fibrosis ORA
const gO = addGrid(338.4, 1231, 514.6, 360);
xAxes.push(axis(gO, 0.973, 1.7276, oraXTicks, v => v.toFixed(1), {fs:17.6, margin:10}));
yAxes.push(axis(gO, 0.4, 2.6, [1,2], v => oraSets[Math.round(v)-1], {fs:17, margin:10}));
const oraIdx = series.length;
series.push({type:'scatter', xAxisIndex:gO, yAxisIndex:gO, z:2, silent:true,
  symbolSize: v => oraSize(v[2]), itemStyle:{opacity:1},
  data: oraLogFDR.map((v, k) => [v, k+1, oraSetSize[k], oraPctDEG[k]])});
series.push({type:'scatter', xAxisIndex:gO, yAxisIndex:gO, z:5, silent:true, data:[],
  markLine:{silent:true, symbol:'none', label:{show:false}, animation:false,
    lineStyle:{color:'#000', width:2.4, type:[11,9]}, data:[{xAxis:fdrThreshold}]}});

// ---- Fibrosis GSEA
const gG = addGrid(1159, 1231, 513.8, 360);
xAxes.push(axis(gG, 0.2488, 1.3497, gseaXTicks, v => v.toFixed(2), {fs:17.6, margin:10}));
yAxes.push(axis(gG, 0.4, 2.6, [1,2], v => gseaSets[Math.round(v)-1], {fs:17, margin:10}));
series.push({type:'scatter', xAxisIndex:gG, yAxisIndex:gG, z:2, silent:true,
  symbolSize: v => gseaSize(v[2]),
  itemStyle:{opacity:1, color: p => gseaDirection[p.dataIndex] === 'Up' ? C_DIR_UP : C_DIR_DOWN},
  data: gseaLogFDR.map((v, k) => [v, k+1, gseaNGenes[k]])});
series.push({type:'scatter', xAxisIndex:gG, yAxisIndex:gG, z:5, silent:true, data:[],
  markLine:{silent:true, symbol:'none', label:{show:false}, animation:false,
    lineStyle:{color:'#000', width:2.4, type:[11,9]}, data:[{xAxis:fdrThreshold}]}});

// ---- Enrichment facets
enrichPanels.forEach((pn, k) => {
  const gi = addGrid(973.5, pn.top, 544.5, pn.height);
  const N = pn.terms.length;
  const last = k === enrichPanels.length - 1;
  xAxes.push(axis(gi, -0.215, 25.78, enrichXTicks, v => String(v), {show:last, fs:20.8, margin:11}));
  const ya = axis(gi, 0.4, N + 0.6, pn.terms.map((t, j) => N - j), v => pn.terms[N - Math.round(v)], {fs:20.8, margin:12, lh:21.5});
  ya.axisLabel.align = 'right';
  yAxes.push(ya);
  strip(973.5, pn.strip, 544.5, pn.top - pn.strip, pn.name, 21);
  series.push({type:'scatter', xAxisIndex:gi, yAxisIndex:gi, z:2, silent:true,
    symbolSize: v => enrichSize(v[2]),
    itemStyle:{opacity:1, color: p => pn.dir[p.dataIndex] === 'Up' ? C_DIR_UP : C_DIR_DOWN},
    data: pn.fdr.map((v, j) => [v, N - j, pn.n[j]])});
  series.push({type:'scatter', xAxisIndex:gi, yAxisIndex:gi, z:5, silent:true, data:[],
    markLine:{silent:true, symbol:'none', label:{show:false}, animation:false,
      lineStyle:{color:'#000', width:2.3, type:[11,9]}, data:[{xAxis:fdrThreshold}]}});
});

// ---- Titles & axis titles
const richSub = {t:{fontSize:28, fontFamily:FONT, fill:'#000', color:'#000', lineHeight:40},
                 s:{fontSize:19, fontFamily:FONT, fill:'#000', color:'#000', lineHeight:19, verticalAlign:'bottom'}};
graphics.push(txt(73, 467, '{t|−log}{s|10}{t| (P-value)}', 28, {rot:Math.PI/2, align:'center', rich:richSub}));
graphics.push(txt(498.5, 936, '{t|log}{s|2}{t| (Fold Change)}', 28, {align:'center', rich:richSub}));
graphics.push(txt(950, 72, 'CF.NO_MODvNON_CF.CTRL', 35));
graphics.push(txt(899, 468.6, 'log2 CPM', 28.5, {rot:Math.PI/2, align:'center'}));
graphics.push(txt(1309, 987, 'Group', 28.5, {align:'center'}));
graphics.push(txt(339.5, 1208, 'Fibrosis over-represenation', 25));
graphics.push(txt(1159.5, 1208, 'Fibrosis GSEA', 25));
graphics.push(txt(62, 1411, 'Gene set', 21, {rot:Math.PI/2, align:'center'}));
graphics.push(txt(882, 1411, 'Gene set', 21, {rot:Math.PI/2, align:'center'}));
graphics.push(txt(595.7, 1631, '-log10(FDR)', 21.3, {align:'center'}));
graphics.push(txt(1416, 1631, '-log10(FDR)', 21.3, {align:'center'}));
graphics.push(txt(48, 2672.5, 'Gene set', 26, {rot:Math.PI/2, align:'center'}));
graphics.push(txt(1247, 3400, '-log10(FDR)', 26, {align:'center'}));

// ---- Legends: volcano & group
const fdrLegend = ['Down','Up','NotSig'], fdrLegendColors = [C_DOWN, C_UP, C_NS];
const fdrDotX = [418, 554, 659], fdrTextX = [456, 592, 697];
graphics.push(txt(231, 1076, 'FDR < 0.05', 28.5));
fdrLegend.forEach((l, k) => { graphics.push(circ(fdrDotX[k], 1076, 6, fdrLegendColors[k], 0.85)); graphics.push(txt(fdrTextX[k], 1076, l, 23)); });
const grpDotX = [1159.6, 1376.8], grpTextX = [1200, 1413], grpColors = [C_G1, C_G2];
graphics.push(txt(1042, 1076, 'Group', 28.5));
boxGroups.forEach((l, k) => { graphics.push(circ(grpDotX[k], 1076, 6, grpColors[k])); graphics.push(txt(grpTextX[k], 1076, l, 23)); });

// ---- ORA legend
const setSizeBreaks = [20, 30, 40, 50, 60], setSizeY = [1716, 1742, 1775, 1812.7, 1855];
graphics.push(txt(497, 1685, 'Set size', 21));
setSizeBreaks.forEach((b, k) => { graphics.push(circ(518, setSizeY[k], oraSize(b)/2, '#000')); graphics.push(txt(551, setSizeY[k], String(b), 18)); });
graphics.push(txt(615, 1685, '% DEGs', 21));
const cbX = 614.3, cbY = 1704.3, cbW = 22.4, cbH = 113.4;
const pctMin = Math.min.apply(null, oraPctDEG), pctMax = Math.max.apply(null, oraPctDEG);
graphics.push({type:'rect', z:100, silent:true, shape:{x:cbX, y:cbY, width:cbW, height:cbH},
  style:{fill:new echarts.graphic.LinearGradient(0, 1, 0, 0, plasma.map((c, k) => ({offset:k/(plasma.length-1), color:c})))}});
[5, 6, 7].forEach(v => {
  const y = cbY + cbH * (pctMax - v) / (pctMax - pctMin);
  graphics.push({type:'line', z:101, silent:true, shape:{x1:cbX, y1:y, x2:cbX+7, y2:y}, style:{stroke:'#fff', lineWidth:1.3}});
  graphics.push({type:'line', z:101, silent:true, shape:{x1:cbX+cbW-7, y1:y, x2:cbX+cbW, y2:y}, style:{stroke:'#fff', lineWidth:1.3}});
  graphics.push(txt(648, y, String(v), 18));
});

// ---- GSEA legend
const dirLabels = ['Down','Up'], dirColors = [C_DIR_DOWN, C_DIR_UP];
graphics.push(txt(1315, 1705, 'Direction', 21));
[1735, 1758.3].forEach((y, k) => { graphics.push(circ(1325, y, 6, dirColors[k])); graphics.push(txt(1347, y, dirLabels[k], 18)); });
const gseaBreaks = [20, 30, 40, 50], gseaBreakY = [1735.7, 1761.7, 1797, 1836.7];
graphics.push(txt(1440.7, 1705, 'NGenes', 21));
gseaBreaks.forEach((b, k) => { graphics.push(circ(1461.7, gseaBreakY[k], gseaSize(b)/2, '#000')); graphics.push(txt(1494, gseaBreakY[k], String(b), 18)); });

// ---- Enrichment legend
const enrichBreaks = [50, 100, 150], enrichBreakY = [2555, 2601, 2647.3];
graphics.push(txt(1560, 2506.7, 'NGenes', 26));
enrichBreaks.forEach((b, k) => { graphics.push(circ(1582, enrichBreakY[k], enrichSize(b)/2, '#000')); graphics.push(txt(1617, enrichBreakY[k], String(b), 21)); });
graphics.push(txt(1560, 2736.7, 'Direction', 26));
[2785, 2830].forEach((y, k) => { graphics.push(circ(1582, y, 6, dirColors[k])); graphics.push(txt(1617, y, dirLabels[k], 21)); });

const chart = echarts.init(document.getElementById('c'), null, {renderer:'canvas', width:1728, height:3456});
chart.setOption({
  animation:false,
  backgroundColor:'#fff',
  textStyle:{fontFamily:FONT},
  grid:grids, xAxis:xAxes, yAxis:yAxes, series,
  visualMap:[{type:'continuous', show:false, seriesIndex:oraIdx, dimension:3, min:pctMin, max:pctMax, inRange:{color:plasma, opacity:1}}],
  graphic:{elements:graphics}
});
</script></body></html>
